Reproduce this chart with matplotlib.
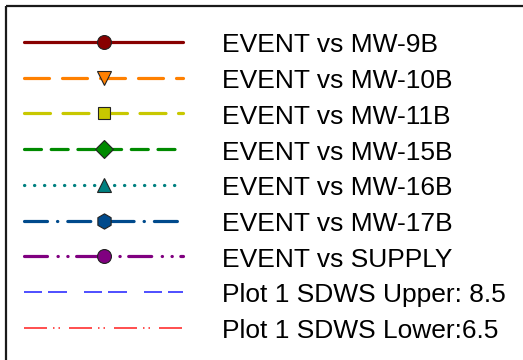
import matplotlib
matplotlib.use("Agg")
import matplotlib.pyplot as plt
from matplotlib.patches import Rectangle

plt.rcParams['font.family'] = ['Liberation Sans', 'DejaVu Sans']
plt.rcParams['lines.scale_dashes'] = False

labels = ["EVENT vs MW-9B", "EVENT vs MW-10B", "EVENT vs MW-11B", "EVENT vs MW-15B",
          "EVENT vs MW-16B", "EVENT vs MW-17B", "EVENT vs SUPPLY",
          "Plot 1 SDWS Upper: 8.5", "Plot 1 SDWS Lower:6.5"]
colors = ["#880000", "#FF8000", "#C8C800", "#008A00", "#008080", "#004A8C", "#800080",
          "#4040FF", "#FF4040"]
markers = ["o", "v", "s", "D", "^", "h", "o", None, None]
msizes = [10, 9.5, 8.5, 9, 9.5, 11, 10, 0, 0]

PX = 0.72  # px -> pt
dashes = [
    None,
    [25 * PX, 13 * PX],
    [26 * PX, 12.5 * PX],
    [17 * PX, 9.7 * PX],
    [0.3 * PX, 9.7 * PX],
    [23 * PX, 10 * PX, 0.3 * PX, 10 * PX],
    [23 * PX, 10.5 * PX, 0.3 * PX, 9.5 * PX, 0.3 * PX, 8.5 * PX],
    [18 * PX, 6 * PX, 19 * PX, 17 * PX],
    [23 * PX, 6 * PX, 1.5 * PX, 4 * PX, 1.5 * PX, 9 * PX],
]
lws = [2.3, 2.3, 2.3, 2.3, 2.3, 2.3, 2.3, 1.3, 1.3]
caps = ["round"] * 7 + ["butt", "butt"]

fig = plt.figure(figsize=(5.23, 3.60), dpi=100)
ax = fig.add_axes([0, 0, 1, 1])
ax.set_xlim(0, 523)
ax.set_ylim(360, 0)
ax.axis('off')

ax.add_patch(Rectangle((6, 6), 600, 400, fill=False, edgecolor='#1a1a1a', lw=1.6))

y0, step = 42, 35.7
for i, lab in enumerate(labels):
    y = y0 + i * step
    kw = dict(color=colors[i], lw=lws[i], solid_capstyle='round', dash_capstyle=caps[i])
    line, = ax.plot([24, 183], [y, y], **kw)
    if dashes[i] is not None:
        line.set_dashes(dashes[i])
    if markers[i]:
        ax.plot([104], [y], marker=markers[i], ms=msizes[i], color=colors[i],
                mec='#222222', mew=0.8, ls='none')
    ax.text(222, y + 10.5, lab, fontsize=19, va='baseline', ha='left', color='black')

fig.savefig("out.png", dpi=100)
